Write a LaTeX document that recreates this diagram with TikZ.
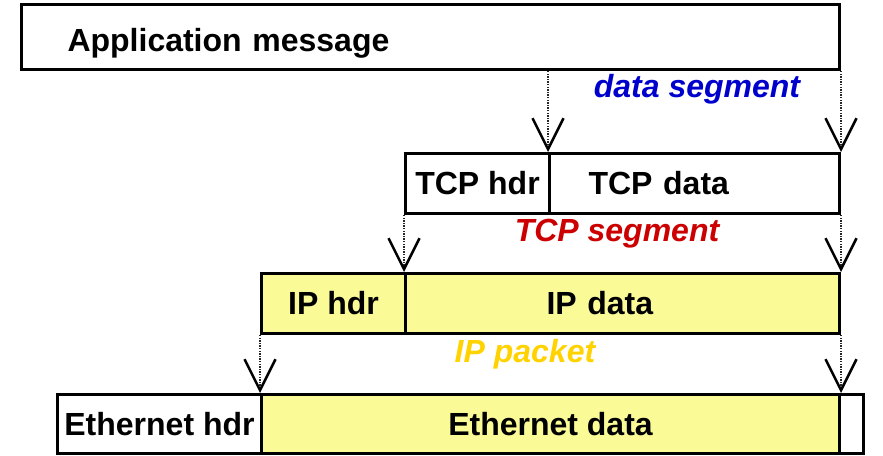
\documentclass[tikz,border=0pt]{standalone}
\usepackage{fontspec}
\setmainfont{Liberation Sans}
\usepackage{xcolor}
\usetikzlibrary{arrows.meta,positioning}

\definecolor{cellfill}{RGB}{250,250,150}
\definecolor{segblue}{RGB}{0,0,204}
\definecolor{segred}{RGB}{204,0,0}
\definecolor{seggold}{RGB}{255,210,0}

\begin{document}
\begin{tikzpicture}[
            x=1pt, y=-1pt,
            font=\fontsize{32}{38}\selectfont\bfseries,
            cell/.style={rectangle, draw=black, line width=3pt, inner sep=0pt, minimum height=60pt, anchor=north west},
            hdrcell/.style={cell, fill=white},
            datacell/.style={cell, fill=cellfill},
            leftcell/.style={align=left, inner xsep=#1},
            tag/.style={font=\fontsize{32}{38}\selectfont\bfseries\itshape},
            flow/.style={dash pattern=on 1.3pt off 1.3pt, line width=2pt, draw=black!85,
                -{Straight Barb[length=31pt, width=31pt, line width=2.5pt, black]}}
        ]
        \useasboundingbox (0,0) rectangle (883,455);

        % application layer
        \node[hdrcell, minimum height=65pt, leftcell=46pt, text width=726pt] (app) at (20,3) {\raisebox{-14pt}[0pt][0pt]{Application message}};
        \node[tag, text=segblue] (datalbl) at (697,89) {data segment};

        % transport layer
        \node[hdrcell, minimum width=144pt] (tcphdr) at (404,152) {TCP hdr};
        \node[hdrcell, leftcell=39pt, text width=212pt] (tcpdata) at (548,152) {TCP data};
        \node[tag, text=segred] (tcplbl) at (617,234) {TCP segment};

        % network layer
        \node[datacell, minimum width=144pt] (iphdr) at (260,272) {IP hdr};
        \node[datacell, leftcell=141pt, text width=152pt] (ipdata) at (404,272) {IP data};
        \node[tag, text=seggold] (iplbl) at (525,354) {IP packet};

        % link layer
        \node[hdrcell, minimum width=204pt, minimum height=59pt] (ethhdr) at (56,393) {Ethernet hdr};
        \node[datacell, minimum width=578pt, minimum height=59pt] (ethdata) at (260,393) {Ethernet data};
        \node[hdrcell, minimum width=24pt, minimum height=59pt] (ethtrl) at (838,393) {};

        \draw[flow] (app.south -| tcpdata.north west) -- (tcpdata.north west);
        \draw[flow] (app.south east) -- (tcpdata.north east);
        \draw[flow] (tcphdr.south west) -- (ipdata.north west);
        \draw[flow] (tcpdata.south east) -- (ipdata.north east);
        \draw[flow] (iphdr.south west) -- (ethdata.north west);
        \draw[flow] (ipdata.south east) -- (ethdata.north east);

    \end{tikzpicture}
\end{document}
